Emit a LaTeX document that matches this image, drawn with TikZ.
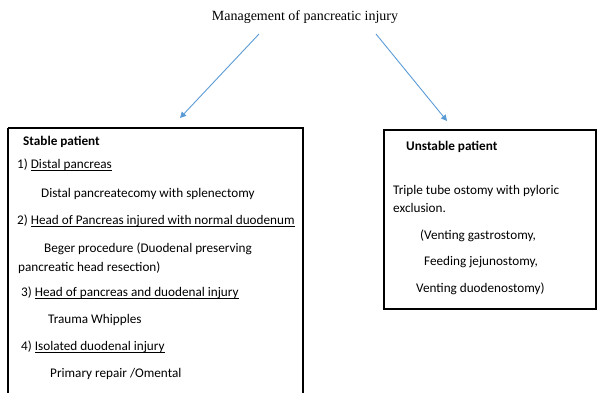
\documentclass[tikz,border=0pt]{standalone}
\usepackage{fontspec}
\setmainfont{Carlito}
\newfontfamily\titlefont{Liberation Serif}
\newcommand\myul[1]{\leavevmode\setbox0\hbox{#1}\rlap{\vrule height -1.6pt depth 2.4pt width \wd0}\box0}
\usetikzlibrary{arrows.meta}
\definecolor{arrowblue}{RGB}{91,155,213}
\tikzset{
  txt/.style={anchor=base west, inner sep=0pt, font=\fontsize{13.2}{16}\selectfont},
  conn/.style={draw=arrowblue, line width=0.9pt, -{Triangle[length=6pt,width=6pt]}},
  panel/.style={draw=black}
}
\begin{document}
\begin{tikzpicture}[x=1pt,y=-1pt]
\useasboundingbox (0,0) rectangle (599,392);
\clip (0,0) rectangle (599,392);
\node[anchor=base, inner sep=0pt, font=\titlefont\fontsize{14}{16}\selectfont] (title) at (305,20) {Management of pancreatic injury};
\coordinate (s1) at (259,34);
\coordinate (e1) at (180,118);
\coordinate (s2) at (376,34);
\coordinate (e2) at (447,121);
\draw[conn] (s1) -- (e1);
\draw[conn] (s2) -- (e2);
% stable box
\draw[panel, line width=1.8pt] (8,128) -- (303,128) -- (303,400);
\draw[panel, line width=1.8pt] (8,128) -- (8,400);
\node[txt, font=\fontsize{13.2}{16}\selectfont\bfseries] (st) at (23,145) {Stable patient};
\node[txt] (a1) at (17,168) {1) \myul{Distal pancreas}};
\node[txt] (a2) at (41,197) {Distal pancreatecomy with splenectomy};
\node[txt] (b1) at (17,224) {2) \myul{Head of Pancreas injured with normal duodenum}};
\node[txt] (b2) at (44,252) {Beger procedure (Duodenal preserving};
\node[txt] (b3) at (18,271) {pancreatic head resection)};
\node[txt] (c1) at (21,296) {3) \myul{Head of pancreas and duodenal injury}};
\node[txt] (c2) at (48,323) {Trauma Whipples};
\node[txt] (d1) at (21,350) {4) \myul{Isolated duodenal injury}};
\node[txt] (d2) at (50,377) {Primary repair /Omental};
% unstable box
\draw[panel, line width=1.3pt] (384,130) rectangle (596,309);
\node[txt, font=\fontsize{13.2}{16}\selectfont\bfseries] (ut) at (406,150) {Unstable patient};
\node[txt] (u1) at (393,194) {Triple tube ostomy with pyloric};
\node[txt] (u2) at (393,212) {exclusion.};
\node[txt] (u3) at (420,239) {(Venting gastrostomy,};
\node[txt] (u4) at (424,265) {Feeding jejunostomy,};
\node[txt] (u5) at (416,292) {Venting duodenostomy)};
\end{tikzpicture}
\end{document}
